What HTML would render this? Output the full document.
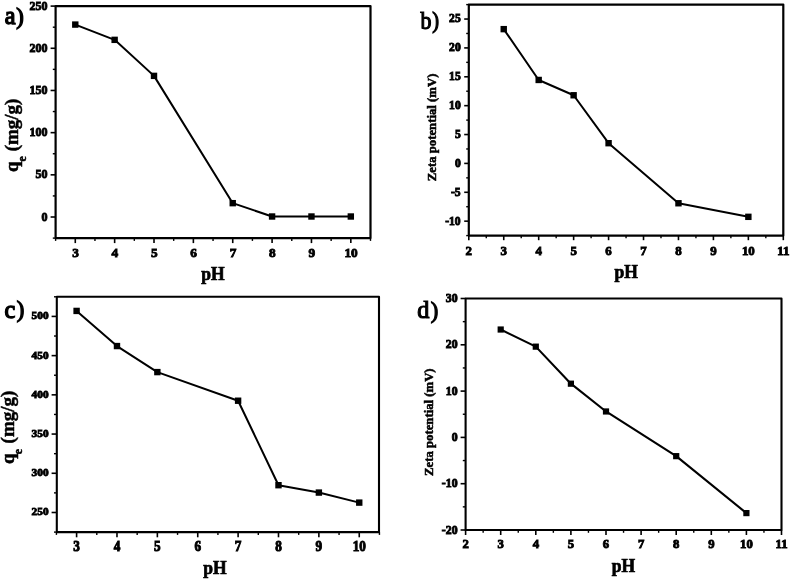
<!DOCTYPE html>
<html><head><meta charset="utf-8"><title>pH plots</title>
<style>
html,body{margin:0;padding:0;background:#fff;}
body{width:790px;height:579px;overflow:hidden;}
svg{display:block;font-family:"Liberation Serif", serif;filter:grayscale(1);}
</style></head>
<body>
<svg width="790" height="579" viewBox="0 0 790 579">
<rect width="790" height="579" fill="#fff"/>
<rect x="55.6" y="6.1" width="314.9" height="232" fill="none" stroke="#000" stroke-width="2.2" stroke-linejoin="round"/>
<line x1="75.28" y1="238.1" x2="75.28" y2="243.1" stroke="#000" stroke-width="1.6"/>
<line x1="114.64" y1="238.1" x2="114.64" y2="243.1" stroke="#000" stroke-width="1.6"/>
<line x1="154.01" y1="238.1" x2="154.01" y2="243.1" stroke="#000" stroke-width="1.6"/>
<line x1="193.37" y1="238.1" x2="193.37" y2="243.1" stroke="#000" stroke-width="1.6"/>
<line x1="232.73" y1="238.1" x2="232.73" y2="243.1" stroke="#000" stroke-width="1.6"/>
<line x1="272.09" y1="238.1" x2="272.09" y2="243.1" stroke="#000" stroke-width="1.6"/>
<line x1="311.46" y1="238.1" x2="311.46" y2="243.1" stroke="#000" stroke-width="1.6"/>
<line x1="350.82" y1="238.1" x2="350.82" y2="243.1" stroke="#000" stroke-width="1.6"/>
<line x1="55.6" y1="238.1" x2="55.6" y2="240.9" stroke="#000" stroke-width="1.4"/>
<line x1="94.96" y1="238.1" x2="94.96" y2="240.9" stroke="#000" stroke-width="1.4"/>
<line x1="134.32" y1="238.1" x2="134.32" y2="240.9" stroke="#000" stroke-width="1.4"/>
<line x1="173.69" y1="238.1" x2="173.69" y2="240.9" stroke="#000" stroke-width="1.4"/>
<line x1="213.05" y1="238.1" x2="213.05" y2="240.9" stroke="#000" stroke-width="1.4"/>
<line x1="252.41" y1="238.1" x2="252.41" y2="240.9" stroke="#000" stroke-width="1.4"/>
<line x1="291.77" y1="238.1" x2="291.77" y2="240.9" stroke="#000" stroke-width="1.4"/>
<line x1="331.14" y1="238.1" x2="331.14" y2="240.9" stroke="#000" stroke-width="1.4"/>
<line x1="370.5" y1="238.1" x2="370.5" y2="240.9" stroke="#000" stroke-width="1.4"/>
<line x1="50.6" y1="217.01" x2="55.6" y2="217.01" stroke="#000" stroke-width="1.6"/>
<line x1="50.6" y1="174.83" x2="55.6" y2="174.83" stroke="#000" stroke-width="1.6"/>
<line x1="50.6" y1="132.65" x2="55.6" y2="132.65" stroke="#000" stroke-width="1.6"/>
<line x1="50.6" y1="90.46" x2="55.6" y2="90.46" stroke="#000" stroke-width="1.6"/>
<line x1="50.6" y1="48.28" x2="55.6" y2="48.28" stroke="#000" stroke-width="1.6"/>
<line x1="50.6" y1="6.1" x2="55.6" y2="6.1" stroke="#000" stroke-width="1.6"/>
<line x1="52.8" y1="238.1" x2="55.6" y2="238.1" stroke="#000" stroke-width="1.4"/>
<line x1="52.8" y1="195.92" x2="55.6" y2="195.92" stroke="#000" stroke-width="1.4"/>
<line x1="52.8" y1="153.74" x2="55.6" y2="153.74" stroke="#000" stroke-width="1.4"/>
<line x1="52.8" y1="111.55" x2="55.6" y2="111.55" stroke="#000" stroke-width="1.4"/>
<line x1="52.8" y1="69.37" x2="55.6" y2="69.37" stroke="#000" stroke-width="1.4"/>
<line x1="52.8" y1="27.19" x2="55.6" y2="27.19" stroke="#000" stroke-width="1.4"/>
<text x="75.58" y="256.7" font-size="13.3" font-weight="bold" text-anchor="middle" stroke="#000" stroke-width="0.9">3</text>
<text x="114.94" y="256.7" font-size="13.3" font-weight="bold" text-anchor="middle" stroke="#000" stroke-width="0.9">4</text>
<text x="154.31" y="256.7" font-size="13.3" font-weight="bold" text-anchor="middle" stroke="#000" stroke-width="0.9">5</text>
<text x="193.67" y="256.7" font-size="13.3" font-weight="bold" text-anchor="middle" stroke="#000" stroke-width="0.9">6</text>
<text x="233.03" y="256.7" font-size="13.3" font-weight="bold" text-anchor="middle" stroke="#000" stroke-width="0.9">7</text>
<text x="272.39" y="256.7" font-size="13.3" font-weight="bold" text-anchor="middle" stroke="#000" stroke-width="0.9">8</text>
<text x="311.76" y="256.7" font-size="13.3" font-weight="bold" text-anchor="middle" stroke="#000" stroke-width="0.9">9</text>
<text x="351.12" y="256.7" font-size="13.3" font-weight="bold" text-anchor="middle" stroke="#000" stroke-width="0.9">10</text>
<text transform="translate(47.6 220.59) scale(1 0.97)" font-size="12" font-weight="bold" text-anchor="end" stroke="#000" stroke-width="0.9">0</text>
<text transform="translate(47.6 178.41) scale(1 0.97)" font-size="12" font-weight="bold" text-anchor="end" stroke="#000" stroke-width="0.9">50</text>
<text transform="translate(47.6 136.23) scale(1 0.97)" font-size="12" font-weight="bold" text-anchor="end" stroke="#000" stroke-width="0.9">100</text>
<text transform="translate(47.6 94.04) scale(1 0.97)" font-size="12" font-weight="bold" text-anchor="end" stroke="#000" stroke-width="0.9">150</text>
<text transform="translate(47.6 51.86) scale(1 0.97)" font-size="12" font-weight="bold" text-anchor="end" stroke="#000" stroke-width="0.9">200</text>
<text transform="translate(47.6 9.68) scale(1 0.97)" font-size="12" font-weight="bold" text-anchor="end" stroke="#000" stroke-width="0.9">250</text>
<polyline points="75.28,24.58 114.64,39.85 154.01,75.87 232.73,203.17 272.09,216.5 311.46,216.5 350.82,216.5" fill="none" stroke="#000" stroke-width="2" stroke-linejoin="round"/>
<rect x="72.08" y="21.38" width="6.4" height="6.4" fill="#000"/>
<rect x="111.44" y="36.65" width="6.4" height="6.4" fill="#000"/>
<rect x="150.81" y="72.67" width="6.4" height="6.4" fill="#000"/>
<rect x="229.53" y="199.97" width="6.4" height="6.4" fill="#000"/>
<rect x="268.89" y="213.3" width="6.4" height="6.4" fill="#000"/>
<rect x="308.26" y="213.3" width="6.4" height="6.4" fill="#000"/>
<rect x="347.62" y="213.3" width="6.4" height="6.4" fill="#000"/>
<text transform="translate(4.8 24.4) scale(0.95 1)" font-size="25.5" stroke="#000" stroke-width="1.4">a<tspan dx="0.8" dy="-0.6" font-size="23.71">)</tspan></text>
<text transform="translate(201.3 279.5) scale(0.92 0.97)" font-size="19" font-weight="bold" stroke="#000" stroke-width="0.75">pH</text>
<g transform="translate(18.2 171.9) rotate(-90)"><text x="0" y="0" font-size="19" font-weight="bold" stroke="#000" stroke-width="0.5">q<tspan font-size="11.78" dx="-0.1" dy="7.85">e</tspan><tspan dx="0.1" dy="-7.85"> (mg/g)</tspan></text></g>
<rect x="468.8" y="4.6" width="314.5" height="231" fill="none" stroke="#000" stroke-width="2.2" stroke-linejoin="round"/>
<line x1="468.8" y1="235.6" x2="468.8" y2="240.2" stroke="#000" stroke-width="1.6"/>
<line x1="503.74" y1="235.6" x2="503.74" y2="240.2" stroke="#000" stroke-width="1.6"/>
<line x1="538.69" y1="235.6" x2="538.69" y2="240.2" stroke="#000" stroke-width="1.6"/>
<line x1="573.63" y1="235.6" x2="573.63" y2="240.2" stroke="#000" stroke-width="1.6"/>
<line x1="608.58" y1="235.6" x2="608.58" y2="240.2" stroke="#000" stroke-width="1.6"/>
<line x1="643.52" y1="235.6" x2="643.52" y2="240.2" stroke="#000" stroke-width="1.6"/>
<line x1="678.47" y1="235.6" x2="678.47" y2="240.2" stroke="#000" stroke-width="1.6"/>
<line x1="713.41" y1="235.6" x2="713.41" y2="240.2" stroke="#000" stroke-width="1.6"/>
<line x1="748.36" y1="235.6" x2="748.36" y2="240.2" stroke="#000" stroke-width="1.6"/>
<line x1="783.3" y1="235.6" x2="783.3" y2="240.2" stroke="#000" stroke-width="1.6"/>
<line x1="486.27" y1="235.6" x2="486.27" y2="238.2" stroke="#000" stroke-width="1.4"/>
<line x1="521.22" y1="235.6" x2="521.22" y2="238.2" stroke="#000" stroke-width="1.4"/>
<line x1="556.16" y1="235.6" x2="556.16" y2="238.2" stroke="#000" stroke-width="1.4"/>
<line x1="591.11" y1="235.6" x2="591.11" y2="238.2" stroke="#000" stroke-width="1.4"/>
<line x1="626.05" y1="235.6" x2="626.05" y2="238.2" stroke="#000" stroke-width="1.4"/>
<line x1="660.99" y1="235.6" x2="660.99" y2="238.2" stroke="#000" stroke-width="1.4"/>
<line x1="695.94" y1="235.6" x2="695.94" y2="238.2" stroke="#000" stroke-width="1.4"/>
<line x1="730.88" y1="235.6" x2="730.88" y2="238.2" stroke="#000" stroke-width="1.4"/>
<line x1="765.83" y1="235.6" x2="765.83" y2="238.2" stroke="#000" stroke-width="1.4"/>
<line x1="464.2" y1="221.16" x2="468.8" y2="221.16" stroke="#000" stroke-width="1.6"/>
<line x1="464.2" y1="192.29" x2="468.8" y2="192.29" stroke="#000" stroke-width="1.6"/>
<line x1="464.2" y1="163.41" x2="468.8" y2="163.41" stroke="#000" stroke-width="1.6"/>
<line x1="464.2" y1="134.54" x2="468.8" y2="134.54" stroke="#000" stroke-width="1.6"/>
<line x1="464.2" y1="105.66" x2="468.8" y2="105.66" stroke="#000" stroke-width="1.6"/>
<line x1="464.2" y1="76.79" x2="468.8" y2="76.79" stroke="#000" stroke-width="1.6"/>
<line x1="464.2" y1="47.91" x2="468.8" y2="47.91" stroke="#000" stroke-width="1.6"/>
<line x1="464.2" y1="19.04" x2="468.8" y2="19.04" stroke="#000" stroke-width="1.6"/>
<line x1="466.2" y1="235.6" x2="468.8" y2="235.6" stroke="#000" stroke-width="1.4"/>
<line x1="466.2" y1="206.72" x2="468.8" y2="206.72" stroke="#000" stroke-width="1.4"/>
<line x1="466.2" y1="177.85" x2="468.8" y2="177.85" stroke="#000" stroke-width="1.4"/>
<line x1="466.2" y1="148.97" x2="468.8" y2="148.97" stroke="#000" stroke-width="1.4"/>
<line x1="466.2" y1="120.1" x2="468.8" y2="120.1" stroke="#000" stroke-width="1.4"/>
<line x1="466.2" y1="91.22" x2="468.8" y2="91.22" stroke="#000" stroke-width="1.4"/>
<line x1="466.2" y1="62.35" x2="468.8" y2="62.35" stroke="#000" stroke-width="1.4"/>
<line x1="466.2" y1="33.47" x2="468.8" y2="33.47" stroke="#000" stroke-width="1.4"/>
<line x1="466.2" y1="4.6" x2="468.8" y2="4.6" stroke="#000" stroke-width="1.4"/>
<text transform="translate(468.8 255) scale(1 1.03)" font-size="12.9" font-weight="bold" text-anchor="middle" stroke="#000" stroke-width="0.9">2</text>
<text transform="translate(503.74 255) scale(1 1.03)" font-size="12.9" font-weight="bold" text-anchor="middle" stroke="#000" stroke-width="0.9">3</text>
<text transform="translate(538.69 255) scale(1 1.03)" font-size="12.9" font-weight="bold" text-anchor="middle" stroke="#000" stroke-width="0.9">4</text>
<text transform="translate(573.63 255) scale(1 1.03)" font-size="12.9" font-weight="bold" text-anchor="middle" stroke="#000" stroke-width="0.9">5</text>
<text transform="translate(608.58 255) scale(1 1.03)" font-size="12.9" font-weight="bold" text-anchor="middle" stroke="#000" stroke-width="0.9">6</text>
<text transform="translate(643.52 255) scale(1 1.03)" font-size="12.9" font-weight="bold" text-anchor="middle" stroke="#000" stroke-width="0.9">7</text>
<text transform="translate(678.47 255) scale(1 1.03)" font-size="12.9" font-weight="bold" text-anchor="middle" stroke="#000" stroke-width="0.9">8</text>
<text transform="translate(713.41 255) scale(1 1.03)" font-size="12.9" font-weight="bold" text-anchor="middle" stroke="#000" stroke-width="0.9">9</text>
<text transform="translate(748.36 255) scale(1 1.03)" font-size="12.9" font-weight="bold" text-anchor="middle" stroke="#000" stroke-width="0.9">10</text>
<text transform="translate(783.3 255) scale(1 1.03)" font-size="12.9" font-weight="bold" text-anchor="middle" stroke="#000" stroke-width="0.9">11</text>
<text transform="translate(460.7 224.54) scale(0.97 1.02)" font-size="12" font-weight="bold" text-anchor="end" stroke="#000" stroke-width="0.9">-10</text>
<text transform="translate(460.7 195.67) scale(0.97 1.02)" font-size="12" font-weight="bold" text-anchor="end" stroke="#000" stroke-width="0.9">-5</text>
<text transform="translate(460.7 166.79) scale(0.97 1.02)" font-size="12" font-weight="bold" text-anchor="end" stroke="#000" stroke-width="0.9">0</text>
<text transform="translate(460.7 137.92) scale(0.97 1.02)" font-size="12" font-weight="bold" text-anchor="end" stroke="#000" stroke-width="0.9">5</text>
<text transform="translate(460.7 109.04) scale(0.97 1.02)" font-size="12" font-weight="bold" text-anchor="end" stroke="#000" stroke-width="0.9">10</text>
<text transform="translate(460.7 80.17) scale(0.97 1.02)" font-size="12" font-weight="bold" text-anchor="end" stroke="#000" stroke-width="0.9">15</text>
<text transform="translate(460.7 51.29) scale(0.97 1.02)" font-size="12" font-weight="bold" text-anchor="end" stroke="#000" stroke-width="0.9">20</text>
<text transform="translate(460.7 22.42) scale(0.97 1.02)" font-size="12" font-weight="bold" text-anchor="end" stroke="#000" stroke-width="0.9">25</text>
<polyline points="503.74,29.14 538.69,79.96 573.63,95.27 608.58,143.2 678.47,203.26 748.36,216.83" fill="none" stroke="#000" stroke-width="2" stroke-linejoin="round"/>
<rect x="500.54" y="25.94" width="6.4" height="6.4" fill="#000"/>
<rect x="535.49" y="76.76" width="6.4" height="6.4" fill="#000"/>
<rect x="570.43" y="92.07" width="6.4" height="6.4" fill="#000"/>
<rect x="605.38" y="140" width="6.4" height="6.4" fill="#000"/>
<rect x="675.27" y="200.06" width="6.4" height="6.4" fill="#000"/>
<rect x="745.16" y="213.63" width="6.4" height="6.4" fill="#000"/>
<text transform="translate(420.4 29) scale(0.86 1)" font-size="25.5" stroke="#000" stroke-width="1.2">b<tspan dx="1" dy="-1.2" font-size="23.71">)</tspan></text>
<text transform="translate(614.5 278) scale(0.92 0.97)" font-size="19" font-weight="bold" stroke="#000" stroke-width="0.75">pH</text>
<g transform="translate(436.4 181.2) rotate(-90)"><text x="0" y="0" font-size="12" font-weight="bold" stroke="#000" stroke-width="0.5" textLength="107.6" lengthAdjust="spacingAndGlyphs">Zeta potential (mV)</text></g>
<rect x="56.8" y="296.8" width="322.2" height="235.3" fill="none" stroke="#000" stroke-width="2.1" stroke-linejoin="round"/>
<line x1="76.6" y1="532.1" x2="76.6" y2="537.3" stroke="#000" stroke-width="1.6"/>
<line x1="116.98" y1="532.1" x2="116.98" y2="537.3" stroke="#000" stroke-width="1.6"/>
<line x1="157.36" y1="532.1" x2="157.36" y2="537.3" stroke="#000" stroke-width="1.6"/>
<line x1="197.74" y1="532.1" x2="197.74" y2="537.3" stroke="#000" stroke-width="1.6"/>
<line x1="238.11" y1="532.1" x2="238.11" y2="537.3" stroke="#000" stroke-width="1.6"/>
<line x1="278.49" y1="532.1" x2="278.49" y2="537.3" stroke="#000" stroke-width="1.6"/>
<line x1="318.87" y1="532.1" x2="318.87" y2="537.3" stroke="#000" stroke-width="1.6"/>
<line x1="359.25" y1="532.1" x2="359.25" y2="537.3" stroke="#000" stroke-width="1.6"/>
<line x1="56.41" y1="532.1" x2="56.41" y2="534.9" stroke="#000" stroke-width="1.4"/>
<line x1="96.79" y1="532.1" x2="96.79" y2="534.9" stroke="#000" stroke-width="1.4"/>
<line x1="137.17" y1="532.1" x2="137.17" y2="534.9" stroke="#000" stroke-width="1.4"/>
<line x1="177.55" y1="532.1" x2="177.55" y2="534.9" stroke="#000" stroke-width="1.4"/>
<line x1="217.92" y1="532.1" x2="217.92" y2="534.9" stroke="#000" stroke-width="1.4"/>
<line x1="258.3" y1="532.1" x2="258.3" y2="534.9" stroke="#000" stroke-width="1.4"/>
<line x1="298.68" y1="532.1" x2="298.68" y2="534.9" stroke="#000" stroke-width="1.4"/>
<line x1="339.06" y1="532.1" x2="339.06" y2="534.9" stroke="#000" stroke-width="1.4"/>
<line x1="379.44" y1="532.1" x2="379.44" y2="534.9" stroke="#000" stroke-width="1.4"/>
<line x1="51.6" y1="512.49" x2="56.8" y2="512.49" stroke="#000" stroke-width="1.6"/>
<line x1="51.6" y1="473.28" x2="56.8" y2="473.28" stroke="#000" stroke-width="1.6"/>
<line x1="51.6" y1="434.06" x2="56.8" y2="434.06" stroke="#000" stroke-width="1.6"/>
<line x1="51.6" y1="394.84" x2="56.8" y2="394.84" stroke="#000" stroke-width="1.6"/>
<line x1="51.6" y1="355.62" x2="56.8" y2="355.62" stroke="#000" stroke-width="1.6"/>
<line x1="51.6" y1="316.41" x2="56.8" y2="316.41" stroke="#000" stroke-width="1.6"/>
<line x1="54" y1="532.1" x2="56.8" y2="532.1" stroke="#000" stroke-width="1.4"/>
<line x1="54" y1="492.88" x2="56.8" y2="492.88" stroke="#000" stroke-width="1.4"/>
<line x1="54" y1="453.67" x2="56.8" y2="453.67" stroke="#000" stroke-width="1.4"/>
<line x1="54" y1="414.45" x2="56.8" y2="414.45" stroke="#000" stroke-width="1.4"/>
<line x1="54" y1="375.23" x2="56.8" y2="375.23" stroke="#000" stroke-width="1.4"/>
<line x1="54" y1="336.02" x2="56.8" y2="336.02" stroke="#000" stroke-width="1.4"/>
<line x1="54" y1="296.8" x2="56.8" y2="296.8" stroke="#000" stroke-width="1.4"/>
<text transform="translate(76.6 551.25) scale(1 1.11)" font-size="13.2" font-weight="bold" text-anchor="middle" stroke="#000" stroke-width="0.9">3</text>
<text transform="translate(116.98 551.25) scale(1 1.11)" font-size="13.2" font-weight="bold" text-anchor="middle" stroke="#000" stroke-width="0.9">4</text>
<text transform="translate(157.36 551.25) scale(1 1.11)" font-size="13.2" font-weight="bold" text-anchor="middle" stroke="#000" stroke-width="0.9">5</text>
<text transform="translate(197.74 551.25) scale(1 1.11)" font-size="13.2" font-weight="bold" text-anchor="middle" stroke="#000" stroke-width="0.9">6</text>
<text transform="translate(238.11 551.25) scale(1 1.11)" font-size="13.2" font-weight="bold" text-anchor="middle" stroke="#000" stroke-width="0.9">7</text>
<text transform="translate(278.49 551.25) scale(1 1.11)" font-size="13.2" font-weight="bold" text-anchor="middle" stroke="#000" stroke-width="0.9">8</text>
<text transform="translate(318.87 551.25) scale(1 1.11)" font-size="13.2" font-weight="bold" text-anchor="middle" stroke="#000" stroke-width="0.9">9</text>
<text transform="translate(359.25 551.25) scale(1 1.11)" font-size="13.2" font-weight="bold" text-anchor="middle" stroke="#000" stroke-width="0.9">10</text>
<text transform="translate(48.6 515.41) scale(1 0.88)" font-size="11.36" font-weight="bold" text-anchor="end" stroke="#000" stroke-width="0.9">250</text>
<text transform="translate(48.6 476.19) scale(1 0.88)" font-size="11.36" font-weight="bold" text-anchor="end" stroke="#000" stroke-width="0.9">300</text>
<text transform="translate(48.6 436.97) scale(1 0.88)" font-size="11.36" font-weight="bold" text-anchor="end" stroke="#000" stroke-width="0.9">350</text>
<text transform="translate(48.6 397.76) scale(1 0.88)" font-size="11.36" font-weight="bold" text-anchor="end" stroke="#000" stroke-width="0.9">400</text>
<text transform="translate(48.6 358.54) scale(1 0.88)" font-size="11.36" font-weight="bold" text-anchor="end" stroke="#000" stroke-width="0.9">450</text>
<text transform="translate(48.6 319.32) scale(1 0.88)" font-size="11.36" font-weight="bold" text-anchor="end" stroke="#000" stroke-width="0.9">500</text>
<polyline points="76.6,310.92 116.98,346.06 157.36,372.1 238.11,400.72 278.49,485.2 318.87,492.57 359.25,502.61" fill="none" stroke="#000" stroke-width="2" stroke-linejoin="round"/>
<rect x="73.4" y="307.72" width="6.4" height="6.4" fill="#000"/>
<rect x="113.78" y="342.86" width="6.4" height="6.4" fill="#000"/>
<rect x="154.16" y="368.9" width="6.4" height="6.4" fill="#000"/>
<rect x="234.91" y="397.52" width="6.4" height="6.4" fill="#000"/>
<rect x="275.29" y="482" width="6.4" height="6.4" fill="#000"/>
<rect x="315.67" y="489.37" width="6.4" height="6.4" fill="#000"/>
<rect x="356.05" y="499.41" width="6.4" height="6.4" fill="#000"/>
<text transform="translate(4.6 317.5) scale(0.95 1)" font-size="25.5" stroke="#000" stroke-width="1.4">c<tspan dx="1.6" dy="-0.6" font-size="23.71">)</tspan></text>
<text transform="translate(203.3 574) scale(0.92 0.97)" font-size="19" font-weight="bold" stroke="#000" stroke-width="0.75">pH</text>
<g transform="translate(14 464) rotate(-90)"><text x="0" y="0" font-size="19" font-weight="bold" stroke="#000" stroke-width="0.5">q<tspan font-size="11.78" dx="-0.7" dy="7.85">e</tspan><tspan dx="0.7" dy="-7.85"> (mg/g)</tspan></text></g>
<rect x="465.6" y="298.5" width="315.9" height="231.5" fill="none" stroke="#000" stroke-width="2.1" stroke-linejoin="round"/>
<line x1="465.6" y1="530" x2="465.6" y2="535" stroke="#000" stroke-width="1.6"/>
<line x1="500.7" y1="530" x2="500.7" y2="535" stroke="#000" stroke-width="1.6"/>
<line x1="535.8" y1="530" x2="535.8" y2="535" stroke="#000" stroke-width="1.6"/>
<line x1="570.9" y1="530" x2="570.9" y2="535" stroke="#000" stroke-width="1.6"/>
<line x1="606" y1="530" x2="606" y2="535" stroke="#000" stroke-width="1.6"/>
<line x1="641.1" y1="530" x2="641.1" y2="535" stroke="#000" stroke-width="1.6"/>
<line x1="676.2" y1="530" x2="676.2" y2="535" stroke="#000" stroke-width="1.6"/>
<line x1="711.3" y1="530" x2="711.3" y2="535" stroke="#000" stroke-width="1.6"/>
<line x1="746.4" y1="530" x2="746.4" y2="535" stroke="#000" stroke-width="1.6"/>
<line x1="781.5" y1="530" x2="781.5" y2="535" stroke="#000" stroke-width="1.6"/>
<line x1="483.15" y1="530" x2="483.15" y2="532.8" stroke="#000" stroke-width="1.4"/>
<line x1="518.25" y1="530" x2="518.25" y2="532.8" stroke="#000" stroke-width="1.4"/>
<line x1="553.35" y1="530" x2="553.35" y2="532.8" stroke="#000" stroke-width="1.4"/>
<line x1="588.45" y1="530" x2="588.45" y2="532.8" stroke="#000" stroke-width="1.4"/>
<line x1="623.55" y1="530" x2="623.55" y2="532.8" stroke="#000" stroke-width="1.4"/>
<line x1="658.65" y1="530" x2="658.65" y2="532.8" stroke="#000" stroke-width="1.4"/>
<line x1="693.75" y1="530" x2="693.75" y2="532.8" stroke="#000" stroke-width="1.4"/>
<line x1="728.85" y1="530" x2="728.85" y2="532.8" stroke="#000" stroke-width="1.4"/>
<line x1="763.95" y1="530" x2="763.95" y2="532.8" stroke="#000" stroke-width="1.4"/>
<line x1="460.6" y1="530" x2="465.6" y2="530" stroke="#000" stroke-width="1.6"/>
<line x1="460.6" y1="483.7" x2="465.6" y2="483.7" stroke="#000" stroke-width="1.6"/>
<line x1="460.6" y1="437.4" x2="465.6" y2="437.4" stroke="#000" stroke-width="1.6"/>
<line x1="460.6" y1="391.1" x2="465.6" y2="391.1" stroke="#000" stroke-width="1.6"/>
<line x1="460.6" y1="344.8" x2="465.6" y2="344.8" stroke="#000" stroke-width="1.6"/>
<line x1="460.6" y1="298.5" x2="465.6" y2="298.5" stroke="#000" stroke-width="1.6"/>
<line x1="462.8" y1="506.85" x2="465.6" y2="506.85" stroke="#000" stroke-width="1.4"/>
<line x1="462.8" y1="460.55" x2="465.6" y2="460.55" stroke="#000" stroke-width="1.4"/>
<line x1="462.8" y1="414.25" x2="465.6" y2="414.25" stroke="#000" stroke-width="1.4"/>
<line x1="462.8" y1="367.95" x2="465.6" y2="367.95" stroke="#000" stroke-width="1.4"/>
<line x1="462.8" y1="321.65" x2="465.6" y2="321.65" stroke="#000" stroke-width="1.4"/>
<text transform="translate(465.6 548.2) scale(1 1.03)" font-size="12.7" font-weight="bold" text-anchor="middle" stroke="#000" stroke-width="0.9">2</text>
<text transform="translate(500.7 548.2) scale(1 1.03)" font-size="12.7" font-weight="bold" text-anchor="middle" stroke="#000" stroke-width="0.9">3</text>
<text transform="translate(535.8 548.2) scale(1 1.03)" font-size="12.7" font-weight="bold" text-anchor="middle" stroke="#000" stroke-width="0.9">4</text>
<text transform="translate(570.9 548.2) scale(1 1.03)" font-size="12.7" font-weight="bold" text-anchor="middle" stroke="#000" stroke-width="0.9">5</text>
<text transform="translate(606 548.2) scale(1 1.03)" font-size="12.7" font-weight="bold" text-anchor="middle" stroke="#000" stroke-width="0.9">6</text>
<text transform="translate(641.1 548.2) scale(1 1.03)" font-size="12.7" font-weight="bold" text-anchor="middle" stroke="#000" stroke-width="0.9">7</text>
<text transform="translate(676.2 548.2) scale(1 1.03)" font-size="12.7" font-weight="bold" text-anchor="middle" stroke="#000" stroke-width="0.9">8</text>
<text transform="translate(711.3 548.2) scale(1 1.03)" font-size="12.7" font-weight="bold" text-anchor="middle" stroke="#000" stroke-width="0.9">9</text>
<text transform="translate(746.4 548.2) scale(1 1.03)" font-size="12.7" font-weight="bold" text-anchor="middle" stroke="#000" stroke-width="0.9">10</text>
<text transform="translate(781.5 548.2) scale(1 1.03)" font-size="12.7" font-weight="bold" text-anchor="middle" stroke="#000" stroke-width="0.9">11</text>
<text transform="translate(457.6 533.55) scale(1 0.99)" font-size="11.8" font-weight="bold" text-anchor="end" stroke="#000" stroke-width="0.9">-20</text>
<text transform="translate(457.6 487.25) scale(1 0.99)" font-size="11.8" font-weight="bold" text-anchor="end" stroke="#000" stroke-width="0.9">-10</text>
<text transform="translate(457.6 440.95) scale(1 0.99)" font-size="11.8" font-weight="bold" text-anchor="end" stroke="#000" stroke-width="0.9">0</text>
<text transform="translate(457.6 394.65) scale(1 0.99)" font-size="11.8" font-weight="bold" text-anchor="end" stroke="#000" stroke-width="0.9">10</text>
<text transform="translate(457.6 348.35) scale(1 0.99)" font-size="11.8" font-weight="bold" text-anchor="end" stroke="#000" stroke-width="0.9">20</text>
<text transform="translate(457.6 302.05) scale(1 0.99)" font-size="11.8" font-weight="bold" text-anchor="end" stroke="#000" stroke-width="0.9">30</text>
<polyline points="500.7,329.52 535.8,346.65 570.9,383.69 606,411.47 676.2,456.15 746.4,513.1" fill="none" stroke="#000" stroke-width="2.1" stroke-linejoin="round"/>
<rect x="497.6" y="326.42" width="6.2" height="6.2" fill="#000"/>
<rect x="532.7" y="343.55" width="6.2" height="6.2" fill="#000"/>
<rect x="567.8" y="380.59" width="6.2" height="6.2" fill="#000"/>
<rect x="602.9" y="408.37" width="6.2" height="6.2" fill="#000"/>
<rect x="673.1" y="453.05" width="6.2" height="6.2" fill="#000"/>
<rect x="743.3" y="510" width="6.2" height="6.2" fill="#000"/>
<text transform="translate(417.3 318.3) scale(0.95 1)" font-size="25.5" stroke="#000" stroke-width="1.2">d<tspan dx="1.4" dy="-0.6" font-size="23.71">)</tspan></text>
<text transform="translate(611.7 571.6) scale(0.92 0.97)" font-size="19" font-weight="bold" stroke="#000" stroke-width="0.75">pH</text>
<g transform="translate(433.4 476) rotate(-90)"><text x="0" y="0" font-size="12" font-weight="bold" stroke="#000" stroke-width="0.5" textLength="107.6" lengthAdjust="spacingAndGlyphs">Zeta potential (mV)</text></g>
</svg>
</body></html>
